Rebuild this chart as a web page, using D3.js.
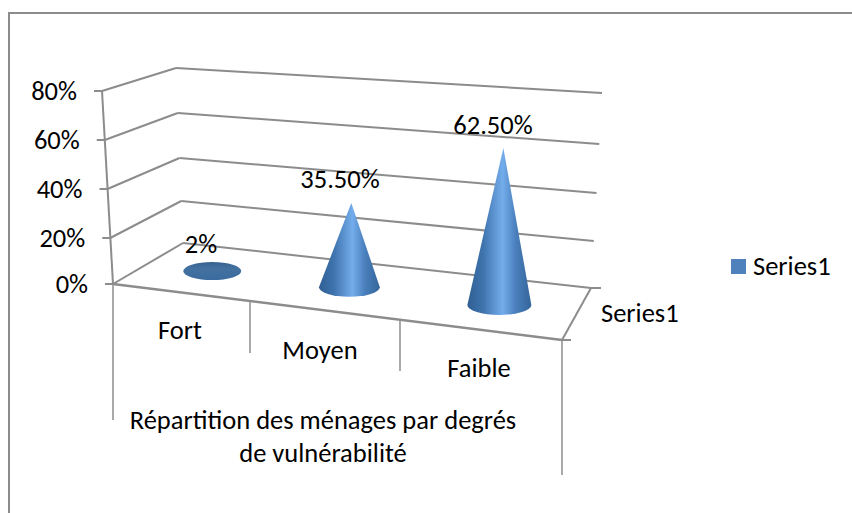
<!DOCTYPE html>
<html><head><meta charset="utf-8">
<script src="https://cdn.jsdelivr.net/npm/d3@7/dist/d3.min.js"></script>
<style>html,body{margin:0;background:#fff}svg{display:block}text{font-family:Carlito,Lato,"Open Sans",sans-serif;fill:#000}</style>
</head><body><svg id="c" width="852" height="513"></svg>
<script>
const categories = ["Fort","Moyen","Faible"];
const values = [2,35.5,62.5];
const valueLabels = ["2%","35.50%","62.50%"];
const yTicks = [0,20,40,60,80];
const seriesName = "Series1";
const axisTitle = ["Répartition des ménages par degrés","de vulnérabilité"];

const svg = d3.select("#c");
const grey = "#8c8c8c";
const fs = 26.5;
const frontX = d3.scaleLinear([0,80],[113,102]), frontY = d3.scaleLinear(yTicks,[284,238,189,140,91]);
const backLX = d3.scaleLinear([0,80],[183,176]), backLY = d3.scaleLinear(yTicks,[243,201,158,113,68]);
const backRX = d3.scaleLinear([0,80],[591,602]), backRY = d3.scaleLinear(yTicks,[288,241,193,144,93]);
const FR=[562,340];
const line=(a,b,w=2,c=grey)=>svg.append("line").attr("x1",a[0]).attr("y1",a[1]).attr("x2",b[0]).attr("y2",b[1]).attr("stroke",c).attr("stroke-width",w);
const label=(x,y,t,anchor="middle")=>svg.append("text").attr("x",x).attr("y",y).attr("text-anchor",anchor).attr("font-size",fs).text(t);

line([9,13],[852,13],2);
line([9,12],[9,513],2);

yTicks.forEach(t=>{
  const f=[frontX(t),frontY(t)],b=[backLX(t),backLY(t)],r=[backRX(t),backRY(t)];
  line([f[0]-8,f[1]],f); line(f,b); line(b,r);
  label(f[0]-25,f[1]+9,t+"%","end");
});
line([frontX(0),frontY(0)],[frontX(80),frontY(80)]);
const FL=[frontX(0),frontY(0)],BL=[backLX(0),backLY(0)],BR=[backRX(0),backRY(0)];
line(FL,FR,2.5); line(FR,BR); line(BR,[BR[0]+10,BR[1]]); line(FR,[FR[0]+9,FR[1]]);
line(FL,[113,420],1.5); line([250,302],[250,353],1.5); line([400,321],[400,371],1.5); line(FR,[562,475],1.5);

const defs=svg.append("defs");
const g=defs.append("linearGradient").attr("id","cone");
[[0,"#2f5f93"],[.25,"#3f74ae"],[.55,"#74adec"],[.75,"#4a80bd"],[1,"#35659a"]].forEach(s=>g.append("stop").attr("offset",s[0]).attr("stop-color",s[1]));
const g2=defs.append("linearGradient").attr("id","disc").attr("x1",0).attr("x2",0).attr("y1",0).attr("y2",1);
[[0,"#37628f"],[.35,"#43719f"],[1,"#3b6b9f"]].forEach(s=>g2.append("stop").attr("offset",s[0]).attr("stop-color",s[1]));

const uS=d3.scaleOrdinal(categories,[.15,.47,.82]);
const lerp=(a,b,t)=>[a[0]+(b[0]-a[0])*t,a[1]+(b[1]-a[1])*t];
const floor=(u,v)=>lerp(lerp(FL,FR,u),lerp(BL,BR,u),v);
const pxPer=d3.scaleLinear([.15,.82],[2.25,2.51]);
const rxS=d3.scaleLinear([.15,.82],[29,32]), ryS=d3.scaleLinear([.15,.82],[9,10]), lean=d3.scaleLinear([.15,.82],[0,4]);
const labelX=[201,340,493], labelY=[253,188,134];
categories.forEach((c,i)=>{
  const u=uS(c),p=floor(u,.5),rx=rxS(u),ry=ryS(u),h=values[i]*pxPer(u);
  const tx=p[0]+lean(u),ty=p[1]-h;
  if(h>10){
    svg.append("path").attr("fill","url(#cone)").attr("d",`M${p[0]-rx},${p[1]}L${tx},${ty}L${p[0]+rx},${p[1]}A${rx},${ry} 0 0 1 ${p[0]-rx},${p[1]}Z`);
  } else {
    svg.append("ellipse").attr("cx",p[0]).attr("cy",p[1]).attr("rx",rx).attr("ry",ry).attr("fill","url(#disc)");
  }
  label(labelX[i],labelY[i],valueLabels[i]);
});
const catX=[180,320,479],catY=[339,359,377];
categories.forEach((c,i)=>label(catX[i],catY[i],c));
axisTitle.forEach((t,i)=>label(323,429+i*33,t));
label(601,322,seriesName,"start");
svg.append("rect").attr("x",731).attr("y",259).attr("width",15).attr("height",15).attr("fill","#4f81bd");
label(753,275,seriesName,"start");
</script></body></html>
